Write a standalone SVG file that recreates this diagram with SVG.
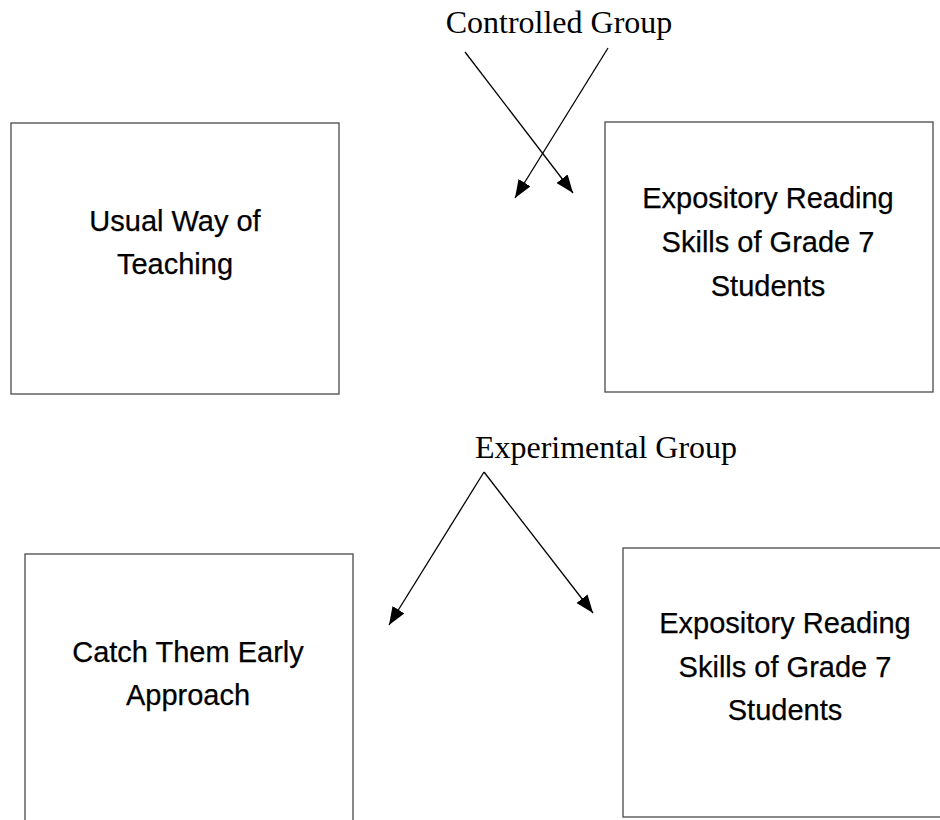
<svg xmlns="http://www.w3.org/2000/svg" width="940" height="820" viewBox="0 0 940 820">
<style>
.box{fill:#fff;stroke:#4a4a4a;stroke-width:1.3}
.bt{font-family:"Liberation Sans",Arial,sans-serif;font-size:29px;fill:#000;stroke:#000;stroke-width:0.25;text-anchor:middle}
.lab{font-family:"Liberation Serif","Times New Roman",serif;font-size:32px;fill:#000;text-anchor:middle}
.con{stroke:#000;stroke-width:1.3;fill:none;marker-end:url(#ah)}
</style>
<defs>
<marker id="ah" markerUnits="userSpaceOnUse" markerWidth="19" markerHeight="15" refX="18" refY="7" orient="auto">
<path d="M0,0 L18,7 L0,14 z" fill="#000"/>
</marker>
</defs>
<rect width="940" height="820" fill="#fff"/>
<g id="controlled-label"><text class="lab" x="559" y="33">Controlled Group</text></g>
<g id="experimental-label"><text class="lab" x="606" y="458">Experimental Group</text></g>
<g id="usual-way">
<rect class="box" x="11" y="123" width="328" height="271"/>
<text class="bt" x="175" y="231">Usual Way of</text>
<text class="bt" x="175" y="274">Teaching</text>
</g>
<g id="reading-skills-1">
<rect class="box" x="605" y="122" width="328" height="270"/>
<text class="bt" x="768" y="208">Expository Reading</text>
<text class="bt" x="768" y="252">Skills of Grade 7</text>
<text class="bt" x="768" y="296">Students</text>
</g>
<g id="catch-them-early">
<rect class="box" x="25" y="554" width="328" height="290"/>
<text class="bt" x="188" y="662">Catch Them Early</text>
<text class="bt" x="188" y="705">Approach</text>
</g>
<g id="reading-skills-2">
<rect class="box" x="623" y="548" width="330" height="269"/>
<text class="bt" x="785" y="633">Expository Reading</text>
<text class="bt" x="785" y="677">Skills of Grade 7</text>
<text class="bt" x="785" y="720">Students</text>
</g>
<g id="connectors">
<line class="con" x1="465" y1="52" x2="573" y2="193"/>
<line class="con" x1="608" y1="48" x2="515" y2="198"/>
<line class="con" x1="484" y1="472" x2="389" y2="625"/>
<line class="con" x1="484" y1="472" x2="593" y2="613"/>
</g>
</svg>
